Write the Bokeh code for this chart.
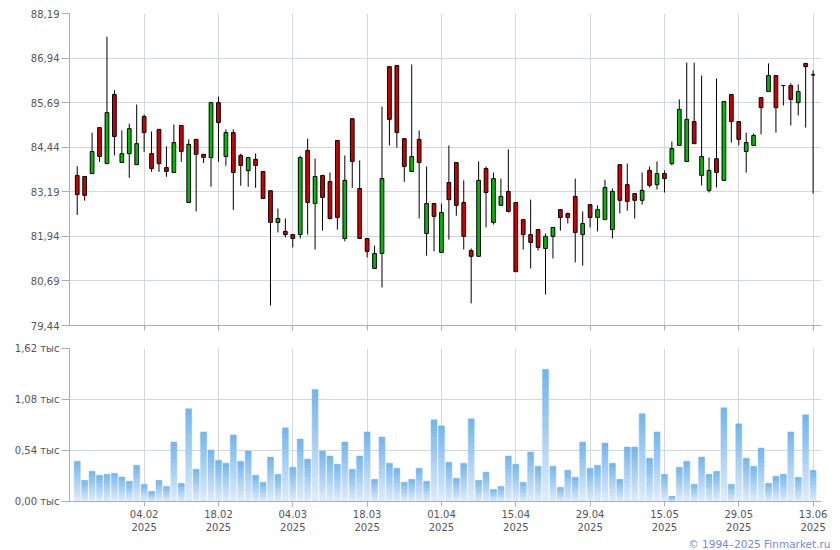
from bokeh.plotting import figure
from bokeh.layouts import column
from bokeh.models import Range1d, FixedTicker, ColumnDataSource, Title
from bokeh.embed import file_html
from bokeh.resources import INLINE

# ---------------- data ----------------
opens = [83.65, 83.62, 83.70, 84.99, 83.98, 85.92, 84.01, 84.26, 83.95, 85.30,
         84.26, 84.94, 83.87, 83.73, 85.05, 82.89, 84.66, 84.24, 84.15, 85.69,
         84.18, 84.85, 84.21, 83.78, 84.10, 83.76, 83.22, 82.33, 82.08, 81.99,
         81.99, 84.35, 82.86, 83.65, 83.48, 84.63, 81.88, 85.24, 83.28, 81.88,
         81.04, 81.46, 86.70, 86.73, 84.68, 83.76, 84.66, 82.02, 82.86, 81.49,
         83.45, 84.01, 82.89, 81.54, 81.38, 83.84, 82.33, 82.81, 83.20, 82.89,
         82.41, 81.99, 82.13, 81.60, 81.94, 82.69, 82.58, 83.06, 81.99, 82.83,
         82.47, 82.41, 82.13, 83.95, 83.39, 83.14, 82.95, 83.79, 83.39, 83.70,
         83.98, 84.49, 84.04, 85.16, 83.65, 83.23, 84.12, 83.51, 85.92, 85.16,
         84.32, 84.49, 85.83, 86.00, 86.45, 86.17, 86.17, 85.69, 86.79, 86.47]
highs = [83.91, 83.62, 84.85, 84.99, 87.54, 86.04, 84.91, 85.10, 85.64, 85.36,
         84.88, 84.94, 84.46, 85.08, 85.05, 84.66, 84.66, 84.24, 85.69, 85.86,
         84.94, 84.94, 84.26, 84.15, 84.26, 83.76, 83.22, 82.72, 82.44, 81.99,
         84.20, 84.68, 84.12, 83.65, 83.73, 84.63, 84.21, 85.24, 84.07, 81.88,
         81.68, 85.58, 86.70, 86.73, 84.68, 86.76, 84.91, 83.90, 82.86, 82.86,
         84.49, 84.01, 83.51, 81.60, 84.04, 83.90, 83.73, 83.56, 84.38, 82.89,
         82.41, 82.97, 82.13, 82.02, 82.19, 82.69, 82.61, 83.56, 82.64, 82.83,
         82.81, 83.53, 83.28, 83.95, 83.98, 83.14, 83.73, 83.90, 84.04, 83.79,
         84.60, 85.78, 86.81, 86.81, 86.45, 84.15, 86.37, 85.72, 85.92, 85.16,
         84.85, 84.82, 85.83, 86.79, 86.45, 86.17, 86.23, 86.20, 86.79, 86.59]
lows = [82.54, 82.94, 83.70, 84.03, 83.98, 84.21, 84.01, 83.58, 83.95, 84.31,
        83.75, 83.75, 83.61, 83.73, 84.03, 82.89, 82.64, 84.00, 83.33, 84.03,
        83.92, 82.68, 83.36, 83.33, 83.30, 83.00, 80.00, 82.05, 81.91, 81.63,
        81.88, 81.99, 81.57, 82.10, 82.41, 82.13, 81.80, 83.30, 81.88, 81.35,
        81.04, 80.51, 84.49, 84.43, 83.47, 83.76, 82.44, 81.40, 81.52, 81.49,
        81.85, 82.52, 81.57, 80.06, 81.38, 82.19, 82.27, 82.81, 82.61, 80.95,
        81.57, 81.04, 81.54, 80.31, 81.32, 82.10, 82.30, 81.21, 81.12, 82.19,
        82.08, 82.41, 81.88, 82.58, 82.66, 82.44, 82.83, 83.31, 83.25, 83.17,
        83.93, 84.49, 84.04, 84.54, 83.37, 83.17, 83.31, 83.51, 84.57, 84.49,
        83.73, 84.49, 84.80, 86.00, 84.85, 85.61, 85.05, 85.33, 84.99, 83.14]
closes = [83.11, 83.09, 84.32, 84.18, 85.41, 84.74, 84.26, 84.96, 84.54, 84.85,
          83.84, 83.98, 83.76, 84.57, 84.32, 84.52, 84.24, 84.15, 85.69, 85.13,
          84.85, 83.73, 83.93, 84.15, 83.93, 83.00, 82.33, 82.44, 81.99, 81.88,
          84.15, 82.89, 83.62, 83.03, 82.44, 82.47, 83.51, 84.04, 81.88, 81.52,
          81.46, 83.56, 85.22, 84.85, 83.90, 84.18, 84.01, 82.86, 82.50, 82.61,
          82.97, 82.81, 81.94, 81.38, 83.51, 83.17, 83.56, 83.06, 82.64, 80.95,
          81.99, 81.77, 81.63, 81.94, 82.19, 82.47, 82.47, 82.05, 82.30, 82.47,
          82.69, 83.31, 83.20, 82.95, 82.92, 82.95, 83.23, 83.37, 83.70, 83.56,
          84.40, 85.50, 85.22, 84.54, 84.18, 83.79, 83.73, 85.72, 85.16, 84.66,
          84.57, 84.77, 85.55, 86.45, 85.55, 86.17, 85.78, 86.00, 86.70, 86.47]
volumes = [0.427, 0.224, 0.320, 0.278, 0.288, 0.299, 0.260, 0.214, 0.384, 0.182,
           0.107, 0.224, 0.160, 0.630, 0.192, 0.982, 0.342, 0.737, 0.545, 0.438,
           0.406, 0.705, 0.427, 0.534, 0.278, 0.203, 0.470, 0.288, 0.780, 0.363,
           0.662, 0.449, 1.185, 0.534, 0.481, 0.395, 0.630, 0.342, 0.481, 0.737,
           0.235, 0.683, 0.406, 0.352, 0.203, 0.235, 0.352, 0.214, 0.865, 0.801,
           0.416, 0.246, 0.406, 0.876, 0.224, 0.310, 0.128, 0.160, 0.481, 0.395,
           0.203, 0.523, 0.374, 1.399, 0.374, 0.150, 0.331, 0.256, 0.630, 0.352,
           0.384, 0.619, 0.406, 0.235, 0.577, 0.577, 0.929, 0.459, 0.737, 0.288,
           0.053, 0.363, 0.427, 0.182, 0.470, 0.288, 0.320, 0.993, 0.182, 0.822,
           0.459, 0.374, 0.566, 0.192, 0.267, 0.288, 0.737, 0.256, 0.918, 0.331]

price_ticks = [79.44, 80.69, 81.94, 83.19, 84.44, 85.69, 86.94, 88.19]
price_tick_labels = ["79,44", "80,69", "81,94", "83,19", "84,44", "85,69", "86,94", "88,19"]
vol_ticks = [0.0, 0.54, 1.08, 1.62]
vol_tick_labels = ["0,00 тыс", "0,54 тыс", "1,08 тыс", "1,62 тыс"]
date_tick_pos = [9, 19, 29, 39, 49, 59, 69, 79, 89, 99]
date_tick_labels = ["04.02\n2025", "18.02\n2025", "04.03\n2025", "18.03\n2025", "01.04\n2025",
                    "15.04\n2025", "29.04\n2025", "15.05\n2025", "29.05\n2025", "13.06\n2025"]
copyright_text = "© 1994–2025 Finmarket.ru"

# ---------------- style ----------------
FONT = "DejaVu Sans"
TXT = "#555555"
AXIS = "#a9adb5"
GRID = "#d3d7dc"
UP = "#00bb00"
DOWN = "#cc0000"

n = len(opens)
xs = list(range(n))
x_start, x_end = -1.04, 100.13

def style_axes(p):
    p.outline_line_color = None
    p.background_fill_color = "white"
    p.border_fill_color = "white"
    for ax in (p.xaxis[0], p.yaxis[0]):
        ax.axis_line_color = AXIS
        ax.major_tick_line_color = AXIS
        ax.minor_tick_line_color = None
        ax.major_tick_in = 0
        ax.major_label_text_font = FONT
        ax.major_label_text_font_size = "10px"
        ax.major_label_text_color = TXT
    p.yaxis.major_tick_out = 8
    p.yaxis.major_label_standoff = 2
    p.xaxis.major_tick_out = 5
    p.xgrid.grid_line_color = GRID
    p.ygrid.grid_line_color = GRID

# ---------------- price panel ----------------
p1 = figure(width=831, height=337, output_backend="svg", toolbar_location=None,
            x_range=Range1d(x_start, x_end), y_range=Range1d(79.44, 88.19),
            min_border_left=69, min_border_right=10, min_border_top=13, min_border_bottom=12)
style_axes(p1)
p1.yaxis.ticker = FixedTicker(ticks=price_ticks)
p1.yaxis.major_label_overrides = {t: l for t, l in zip(price_ticks, price_tick_labels)}
p1.xaxis.ticker = FixedTicker(ticks=date_tick_pos)
p1.xaxis.major_label_text_font_size = "1px"
p1.xaxis.major_label_text_color = None
p1.xaxis.major_label_standoff = 0

colors = [UP if c >= o else DOWN for o, c in zip(opens, closes)]
src = ColumnDataSource(dict(x=xs, o=opens, h=highs, l=lows, c=closes,
                            top=[max(o, c) for o, c in zip(opens, closes)],
                            bot=[min(o, c) for o, c in zip(opens, closes)],
                            color=colors))
p1.segment(x0="x", y0="h", x1="x", y1="l", source=src, line_color="black", line_width=1)
p1.vbar(x="x", width=0.5, top="top", bottom="bot", source=src,
        fill_color="color", line_color="black", line_width=1)

# ---------------- volume panel ----------------
p2 = figure(width=831, height=212, output_backend="svg", toolbar_location=None,
            x_range=p1.x_range, y_range=Range1d(0, 1.62),
            min_border_left=69, min_border_right=10, min_border_top=11, min_border_bottom=10)
style_axes(p2)
p2.yaxis.ticker = FixedTicker(ticks=vol_ticks)
p2.yaxis.major_label_overrides = {t: l for t, l in zip(vol_ticks, vol_tick_labels)}
p2.xaxis.ticker = FixedTicker(ticks=date_tick_pos)
p2.xaxis.major_label_overrides = {t: l for t, l in zip(date_tick_pos, date_tick_labels)}
p2.xaxis.major_label_standoff = 2

# vertical colour gradient inside each bar (pale at base, blue at top)
N = 14
c_bot = (226, 237, 250)
c_top = (112, 180, 238)
gx, gb, gt, gc = [], [], [], []
for i, v in enumerate(volumes):
    for k in range(N):
        f = (k + 0.5) / N
        r = int(c_bot[0] + (c_top[0] - c_bot[0]) * f)
        g = int(c_bot[1] + (c_top[1] - c_bot[1]) * f)
        b = int(c_bot[2] + (c_top[2] - c_bot[2]) * f)
        gx.append(i)
        gb.append(v * k / N)
        gt.append(v * (k + 1) / N)
        gc.append("#%02x%02x%02x" % (r, g, b))
p2.vbar(x=gx, width=0.8, bottom=gb, top=gt, fill_color=gc, line_color=gc, line_width=0.5)

p2.add_layout(Title(text=copyright_text, align="right", text_font=FONT,
                    text_font_size="10.5px", text_font_style="normal",
                    text_color="#7389d9", standoff=0, offset=-9), "below")

layout = column(p1, p2, spacing=0)
open("out.html", "w").write(file_html(layout, INLINE))
